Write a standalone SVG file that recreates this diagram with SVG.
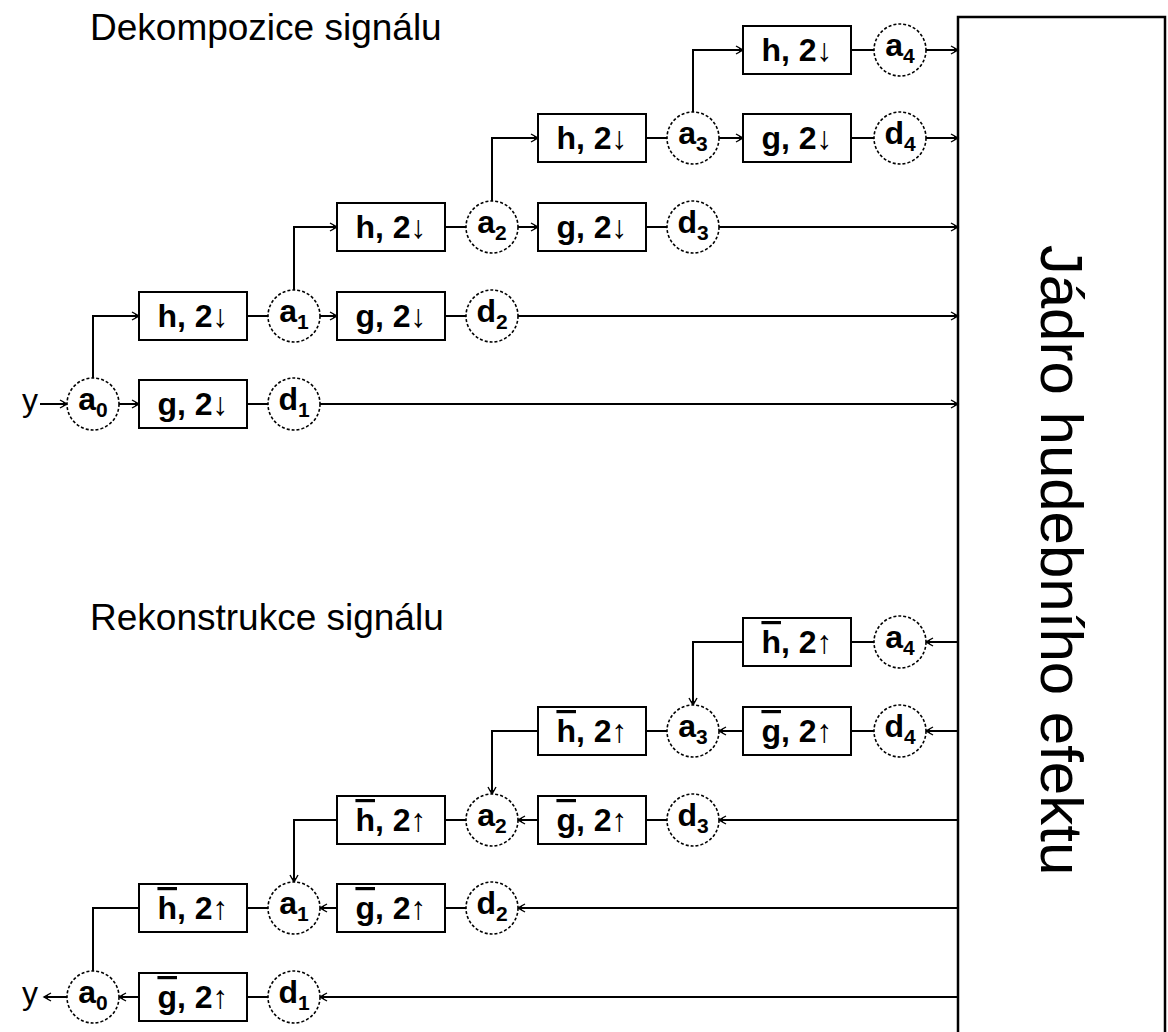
<svg xmlns="http://www.w3.org/2000/svg" width="1168" height="1032" viewBox="0 0 1168 1032">
  <defs>
    <marker id="ah" markerUnits="userSpaceOnUse" markerWidth="12" markerHeight="12" viewBox="-9 -6 10 12" refX="0" refY="0" orient="auto">
      <path d="M-7,-4 L0,0 L-7,4" fill="none" stroke="#000" stroke-width="1.4"/>
      <path d="M-4,-2.2 L0,0 L-4,2.2 Z" fill="#000"/>
    </marker>
  </defs>
  <style>
    .ln { fill: none; stroke: #000; stroke-width: 2; }
    .arr { marker-end: url(#ah); }
    .box { fill: #fff; stroke: #000; stroke-width: 2; }
    .nd circle { fill: #fff; stroke: #000; stroke-width: 1.6; stroke-dasharray: 3 2; }
    text { font-family: "Liberation Sans", Arial, sans-serif; fill: #000; }
    .lbl { font-size: 32px; font-weight: bold; text-anchor: middle; }
    .sub { font-size: 21px; }
    .ttl { font-size: 37px; }
    .core { font-size: 60px; text-anchor: middle; }
    .bar { text-decoration: overline; }
  </style>
  <rect width="1168" height="1032" fill="#fff"/>

  <!-- section titles -->
  <text class="ttl" x="90" y="40">Dekompozice signálu</text>
  <text class="ttl" x="90" y="630">Rekonstrukce signálu</text>

  <!-- processing core -->
  <g id="core">
    <rect x="958" y="17" width="207" height="1030" fill="#fff" stroke="#000" stroke-width="2.5"/>
    <text class="core" transform="translate(1041,560) rotate(90)">Jádro hudebního efektu</text>
  </g>

  <!-- input / output signal -->
  <text id="in-y" class="lbl" x="30" y="411" style="font-weight:normal">y</text>
  <text id="out-y" class="lbl" x="30" y="1004" style="font-weight:normal">y</text>

  <g id="connectors">
    <!-- decomposition -->
    <path class="ln arr" d="M40,404 H67"/>
    <path class="ln arr" d="M119,404 H139"/>
    <path class="ln" d="M247,404 H268"/>
    <path class="ln arr" d="M320,404 H958"/>
    <path class="ln arr" d="M93,378 V316 H139"/>
    <path class="ln" d="M247,316 H268"/>
    <path class="ln arr" d="M320,316 H337"/>
    <path class="ln" d="M445,316 H466"/>
    <path class="ln arr" d="M518,316 H958"/>
    <path class="ln arr" d="M294,290 V227 H337"/>
    <path class="ln" d="M445,227 H466"/>
    <path class="ln arr" d="M518,227 H538"/>
    <path class="ln" d="M646,227 H667"/>
    <path class="ln arr" d="M719,227 H958"/>
    <path class="ln arr" d="M492,201 V138 H538"/>
    <path class="ln" d="M646,138 H667"/>
    <path class="ln arr" d="M719,138 H743"/>
    <path class="ln" d="M851,138 H874"/>
    <path class="ln arr" d="M926,138 H958"/>
    <path class="ln arr" d="M693,112 V50 H743"/>
    <path class="ln" d="M851,50 H874"/>
    <path class="ln arr" d="M926,50 H958"/>
    <!-- reconstruction -->
    <path class="ln arr" d="M958,642 H926"/>
    <path class="ln" d="M874,642 H851"/>
    <path class="ln arr" d="M743,642 H693 V705"/>
    <path class="ln arr" d="M958,731 H926"/>
    <path class="ln" d="M874,731 H851"/>
    <path class="ln arr" d="M743,731 H719"/>
    <path class="ln" d="M667,731 H646"/>
    <path class="ln arr" d="M538,731 H492 V794"/>
    <path class="ln arr" d="M958,820 H719"/>
    <path class="ln" d="M667,820 H646"/>
    <path class="ln arr" d="M538,820 H518"/>
    <path class="ln" d="M466,820 H445"/>
    <path class="ln arr" d="M337,820 H294 V882"/>
    <path class="ln arr" d="M958,908 H518"/>
    <path class="ln" d="M466,908 H445"/>
    <path class="ln arr" d="M337,908 H320"/>
    <path class="ln" d="M268,908 H247"/>
    <path class="ln" d="M139,908 H93 V971"/>
    <path class="ln arr" d="M958,997 H320"/>
    <path class="ln" d="M268,997 H247"/>
    <path class="ln arr" d="M139,997 H119"/>
    <path class="ln arr" d="M67,997 H44"/>
  </g>

  <!-- decomposition: filters -->
  <g id="dg0"><rect class="box" x="139" y="380" width="108" height="48"/><text class="lbl" x="193" y="415">g, 2↓</text></g>
  <g id="dh0"><rect class="box" x="139" y="292" width="108" height="48"/><text class="lbl" x="193" y="327">h, 2↓</text></g>
  <g id="dg1"><rect class="box" x="337" y="292" width="108" height="48"/><text class="lbl" x="391" y="327">g, 2↓</text></g>
  <g id="dh1"><rect class="box" x="337" y="203" width="108" height="48"/><text class="lbl" x="391" y="238">h, 2↓</text></g>
  <g id="dg2"><rect class="box" x="538" y="203" width="108" height="48"/><text class="lbl" x="592" y="238">g, 2↓</text></g>
  <g id="dh2"><rect class="box" x="538" y="114" width="108" height="48"/><text class="lbl" x="592" y="149">h, 2↓</text></g>
  <g id="dg3"><rect class="box" x="743" y="114" width="108" height="48"/><text class="lbl" x="797" y="149">g, 2↓</text></g>
  <g id="dh3"><rect class="box" x="743" y="26" width="108" height="48"/><text class="lbl" x="797" y="61">h, 2↓</text></g>

  <!-- decomposition: coefficients -->
  <g id="da0" class="nd"><circle cx="93" cy="404" r="26"/><text class="lbl" x="93" y="410">a<tspan class="sub" dy="7">0</tspan></text></g>
  <g id="dd1" class="nd"><circle cx="294" cy="404" r="26"/><text class="lbl" x="294" y="410">d<tspan class="sub" dy="7">1</tspan></text></g>
  <g id="da1" class="nd"><circle cx="294" cy="316" r="26"/><text class="lbl" x="294" y="322">a<tspan class="sub" dy="7">1</tspan></text></g>
  <g id="dd2" class="nd"><circle cx="492" cy="316" r="26"/><text class="lbl" x="492" y="322">d<tspan class="sub" dy="7">2</tspan></text></g>
  <g id="da2" class="nd"><circle cx="492" cy="227" r="26"/><text class="lbl" x="492" y="233">a<tspan class="sub" dy="7">2</tspan></text></g>
  <g id="dd3" class="nd"><circle cx="693" cy="227" r="26"/><text class="lbl" x="693" y="233">d<tspan class="sub" dy="7">3</tspan></text></g>
  <g id="da3" class="nd"><circle cx="693" cy="138" r="26"/><text class="lbl" x="693" y="144">a<tspan class="sub" dy="7">3</tspan></text></g>
  <g id="dd4" class="nd"><circle cx="900" cy="138" r="26"/><text class="lbl" x="900" y="144">d<tspan class="sub" dy="7">4</tspan></text></g>
  <g id="da4" class="nd"><circle cx="900" cy="50" r="26"/><text class="lbl" x="900" y="56">a<tspan class="sub" dy="7">4</tspan></text></g>

  <!-- reconstruction: filters -->
  <g id="rh3"><rect class="box" x="743" y="618" width="108" height="48"/><text class="lbl" x="797" y="653"><tspan class="bar">h</tspan>, 2↑</text></g>
  <g id="rg3"><rect class="box" x="743" y="707" width="108" height="48"/><text class="lbl" x="797" y="742"><tspan class="bar">g</tspan>, 2↑</text></g>
  <g id="rh2"><rect class="box" x="538" y="707" width="108" height="48"/><text class="lbl" x="592" y="742"><tspan class="bar">h</tspan>, 2↑</text></g>
  <g id="rg2"><rect class="box" x="538" y="796" width="108" height="48"/><text class="lbl" x="592" y="831"><tspan class="bar">g</tspan>, 2↑</text></g>
  <g id="rh1"><rect class="box" x="337" y="796" width="108" height="48"/><text class="lbl" x="391" y="831"><tspan class="bar">h</tspan>, 2↑</text></g>
  <g id="rg1"><rect class="box" x="337" y="884" width="108" height="48"/><text class="lbl" x="391" y="919"><tspan class="bar">g</tspan>, 2↑</text></g>
  <g id="rh0"><rect class="box" x="139" y="884" width="108" height="48"/><text class="lbl" x="193" y="919"><tspan class="bar">h</tspan>, 2↑</text></g>
  <g id="rg0"><rect class="box" x="139" y="973" width="108" height="48"/><text class="lbl" x="193" y="1008"><tspan class="bar">g</tspan>, 2↑</text></g>

  <!-- reconstruction: coefficients -->
  <g id="ra4" class="nd"><circle cx="900" cy="642" r="26"/><text class="lbl" x="900" y="648">a<tspan class="sub" dy="7">4</tspan></text></g>
  <g id="rd4" class="nd"><circle cx="900" cy="731" r="26"/><text class="lbl" x="900" y="737">d<tspan class="sub" dy="7">4</tspan></text></g>
  <g id="ra3" class="nd"><circle cx="693" cy="731" r="26"/><text class="lbl" x="693" y="737">a<tspan class="sub" dy="7">3</tspan></text></g>
  <g id="rd3" class="nd"><circle cx="693" cy="820" r="26"/><text class="lbl" x="693" y="826">d<tspan class="sub" dy="7">3</tspan></text></g>
  <g id="ra2" class="nd"><circle cx="492" cy="820" r="26"/><text class="lbl" x="492" y="826">a<tspan class="sub" dy="7">2</tspan></text></g>
  <g id="rd2" class="nd"><circle cx="492" cy="908" r="26"/><text class="lbl" x="492" y="914">d<tspan class="sub" dy="7">2</tspan></text></g>
  <g id="ra1" class="nd"><circle cx="294" cy="908" r="26"/><text class="lbl" x="294" y="914">a<tspan class="sub" dy="7">1</tspan></text></g>
  <g id="rd1" class="nd"><circle cx="294" cy="997" r="26"/><text class="lbl" x="294" y="1003">d<tspan class="sub" dy="7">1</tspan></text></g>
  <g id="ra0" class="nd"><circle cx="93" cy="997" r="26"/><text class="lbl" x="93" y="1003">a<tspan class="sub" dy="7">0</tspan></text></g>
</svg>
